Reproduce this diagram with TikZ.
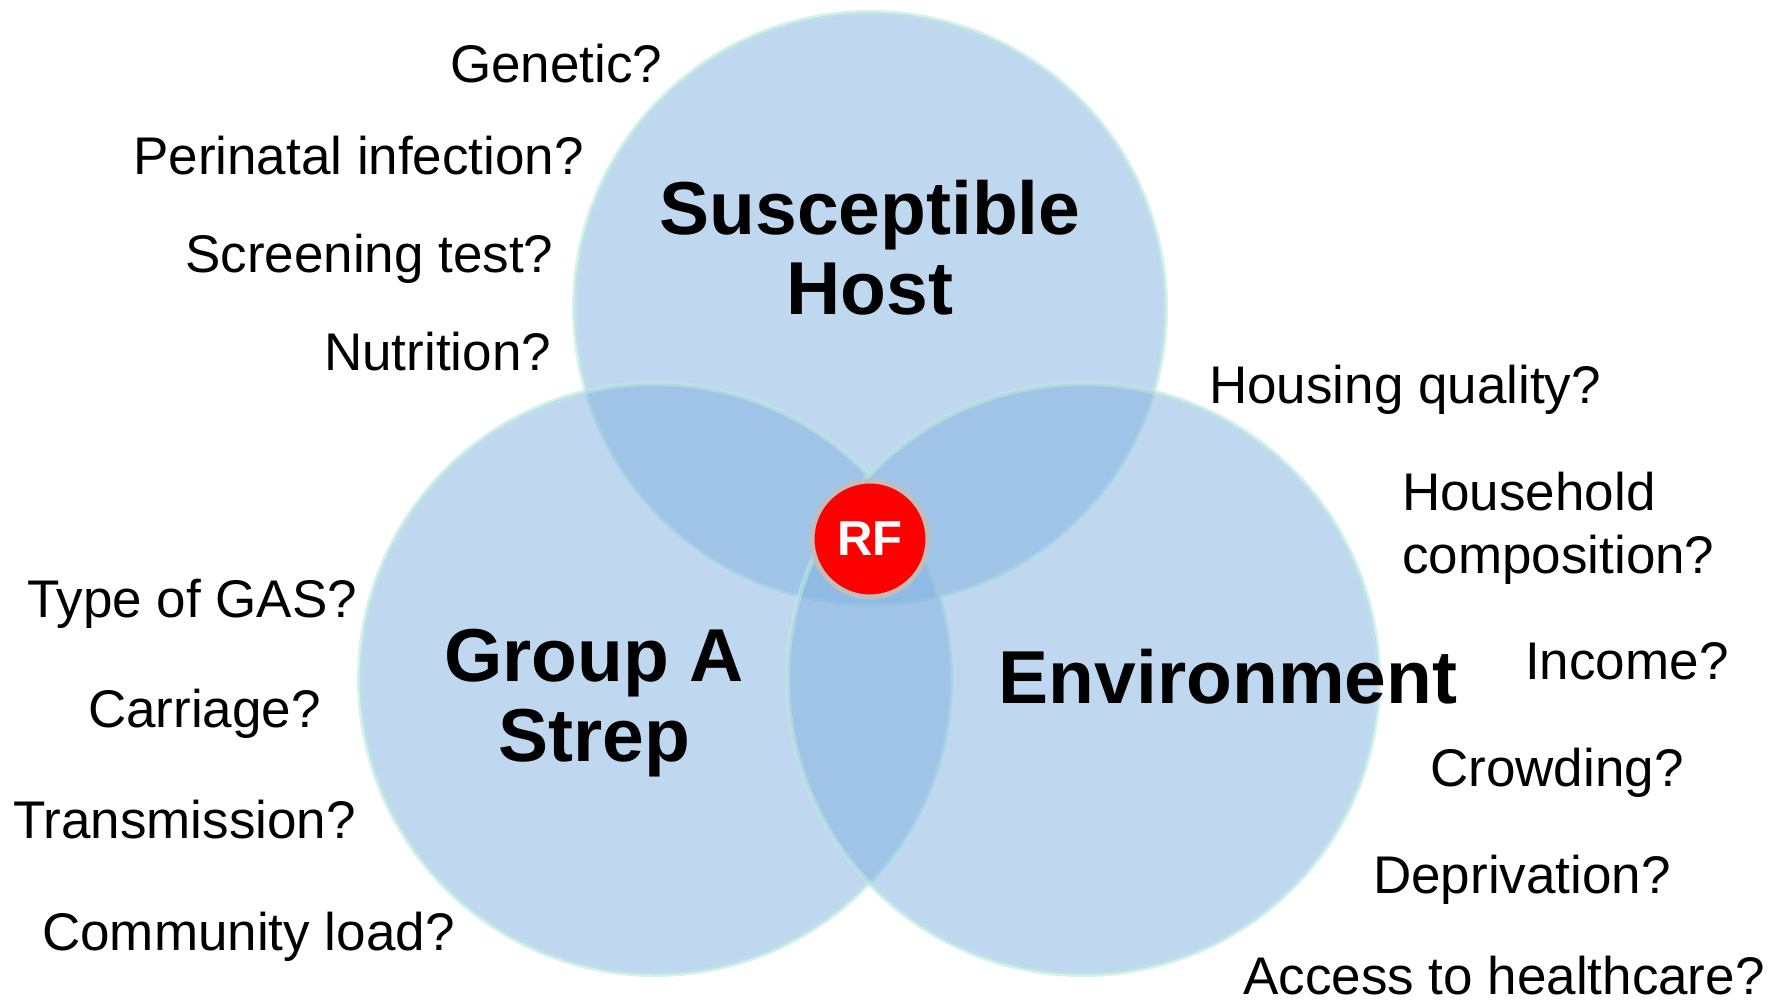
\documentclass[tikz,border=0pt]{standalone}
\usepackage{fontspec}
\setmainfont{Liberation Sans}
\usepackage{tikz}
\definecolor{vennfill}{RGB}{127,177,224}
\definecolor{vennedge}{RGB}{187,231,225}
\definecolor{rfedge}{RGB}{190,190,190}

\begin{document}
\begin{tikzpicture}[x=1bp,y=-1bp,
  venn/.style={circle,minimum size=591bp,inner sep=0pt,fill=vennfill,draw=vennedge,line width=5bp,fill opacity=0.5,draw opacity=0.6},
  title/.style={font=\fontsize{75bp}{80bp}\selectfont\bfseries,align=center},
  lbl/.style={font=\fontsize{53bp}{63bp}\selectfont,anchor=base west,inner sep=0pt,align=left},
  rfnode/.style={circle,minimum size=116bp,inner sep=0pt,fill=red,draw=rfedge,line width=5bp,text=white,font=\fontsize{49bp}{49bp}\selectfont\bfseries}]

\useasboundingbox (0,0) rectangle (1779,1001);

% The three overlapping circles
\node[venn] (host) at (870,308) {};
\node[venn] (strep) at (655,679) {};
\node[venn] (environment) at (1083,679) {};

% Circle titles
\node[title] (hostTitle) at (870,248) {Susceptible\\Host};
\node[title] (strepTitle) at (594,703) {Group A\\Strep};
\node[title,anchor=base] (environmentTitle) at (1228,703) {Environment};

% Risk factor in the middle
\node[rfnode] (rf) at (870,539) {RF};

% Host questions
\node[lbl] (genetic) at (450,82) {Genetic?};
\node[lbl] (perinatal) at (133,174) {Perinatal infection?};
\node[lbl] (screening) at (185,272) {Screening test?};
\node[lbl] (nutrition) at (324,370) {Nutrition?};

% Strep questions
\node[lbl] (typeOfGas) at (27,617) {Type of GAS?};
\node[lbl] (carriage) at (88,727) {Carriage?};
\node[lbl] (transmission) at (13,838) {Transmission?};
\node[lbl] (communityLoad) at (42,950) {Community load?};

% Environment questions (base of a two-line node is its last line)
\node[lbl] (housingQuality) at (1209,403) {Housing quality?};
\node[lbl] (household) at (1402,573) {Household\\composition?};
\node[lbl] (income) at (1525,679) {Income?};
\node[lbl] (crowding) at (1430,786) {Crowding?};
\node[lbl] (deprivation) at (1373,893) {Deprivation?};
\node[lbl] (access) at (1243,994) {Access to healthcare?};

\end{tikzpicture}
\end{document}
